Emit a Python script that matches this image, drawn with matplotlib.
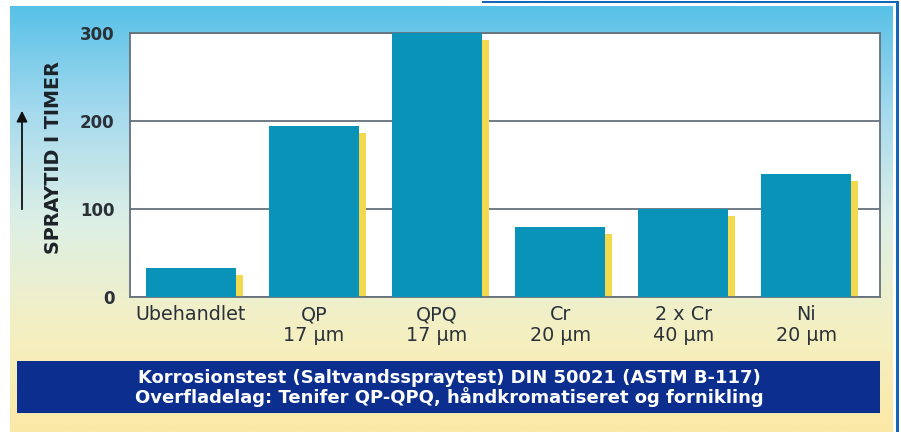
#!/usr/bin/env python
"""Salt spray corrosion test bar chart (DIN 50021 / ASTM B-117)."""
import numpy as np
import matplotlib.pyplot as plt
from matplotlib.colors import LinearSegmentedColormap
from matplotlib.patches import Rectangle, FancyArrowPatch
from matplotlib.transforms import offset_copy

# Coating / treatment and hours in salt spray
CATEGORIES = ["Ubehandlet", "QP\n17 µm", "QPQ\n17 µm", "Cr\n20 µm", "2 x Cr\n40 µm", "Ni\n20 µm"]
HOURS = [33, 194, 300, 80, 100, 140]
Y_TICKS = [0, 100, 200, 300]

TITLE_LINES = [
    "Korrosionstest (Saltvandsspraytest) DIN 50021 (ASTM B-117)",
    "Overfladelag: Tenifer QP-QPQ, håndkromatiseret og fornikling",
]

W, H = 901, 432
BAR_COLOR = "#0a93b9"
SHADOW_COLOR = "#f2d94e"
FRAME_COLOR = "#66717c"
NAVY = "#0b2e8f"

plt.rcParams["font.family"] = ["DejaVu Sans"]


def box(left, top, right, bottom):
    """pixel box (from top-left) -> figure fraction rect"""
    return [left / W, 1 - bottom / H, (right - left) / W, (bottom - top) / H]


fig = plt.figure(figsize=(W / 100, H / 100), dpi=100)
fig.patch.set_facecolor("white")

# --- gradient backdrop ---
bg = fig.add_axes(box(10, 6, 893, 432))
grad = LinearSegmentedColormap.from_list(
    "bg", [(0.0, "#58c1e7"), (0.25, "#a6daee"), (0.5, "#dcefe6"),
           (0.75, "#f4f0c4"), (1.0, "#fbe9a6")])
bg.imshow(np.linspace(0, 1, 256).reshape(-1, 1), cmap=grad, aspect="auto",
          extent=[0, 1, 0, 1], origin="upper")
bg.set_axis_off()

# thin blue frame lines top-right
fig.add_artist(Rectangle((482 / W, 1 - 3 / H), (898 - 482) / W, 2 / H,
                         transform=fig.transFigure, color="#1466b8", lw=0))
fig.add_artist(Rectangle((896 / W, 0), 3 / W, 1 - 1 / H,
                         transform=fig.transFigure, color="#1466b8", lw=0))

# --- main axes ---
ax = fig.add_axes(box(130, 33, 880, 297))
ax.set_facecolor("white")
x = np.arange(len(CATEGORIES))

shadow_tr = offset_copy(ax.transData, fig=fig, x=7, y=-7, units="dots")
ax.bar(x, HOURS, width=0.73, color=SHADOW_COLOR, transform=shadow_tr, zorder=2)
ax.bar(x, HOURS, width=0.73, color=BAR_COLOR, zorder=3, clip_on=False)

ax.set_xlim(-0.496, 5.6)
ax.set_ylim(0, 300)
ax.set_yticks(Y_TICKS)
ax.set_yticklabels([str(t) for t in Y_TICKS], fontsize=12, fontweight="bold",
                   color="#2a3138")
ax.set_xticks(x)
ax.set_xticklabels(CATEGORIES, fontsize=13.8, color="#2a3138", linespacing=1.1)
ax.tick_params(axis="both", length=0)
ax.tick_params(axis="y", pad=11)
ax.tick_params(axis="x", pad=6)
ax.grid(True, axis="y", color=FRAME_COLOR, linewidth=1.3, zorder=1)
for side in ax.spines.values():
    side.set_color(FRAME_COLOR)
    side.set_linewidth(1.3)

# y label + arrow
fig.text(54 / W, 1 - 158 / H, "SPRAYTID I TIMER", rotation=90, ha="center",
         va="center", fontsize=13.8, fontweight="bold", color="#1c2228")
fig.add_artist(FancyArrowPatch((22 / W, 1 - 212 / H), (22 / W, 1 - 108 / H),
                               transform=fig.transFigure, arrowstyle="-|>",
                               mutation_scale=16, color="#111111", lw=1.3))

# --- bottom banner ---
fig.add_artist(Rectangle((17 / W, 1 - 413 / H), (880 - 17) / W, (413 - 361) / H,
                         transform=fig.transFigure, color=NAVY, lw=0))
fig.text(449 / W, 1 - 388 / H, "\n".join(TITLE_LINES), ha="center", va="center",
         fontsize=13, fontweight="bold", color="white", linespacing=1.05)

fig.savefig("out.png", dpi=100)
